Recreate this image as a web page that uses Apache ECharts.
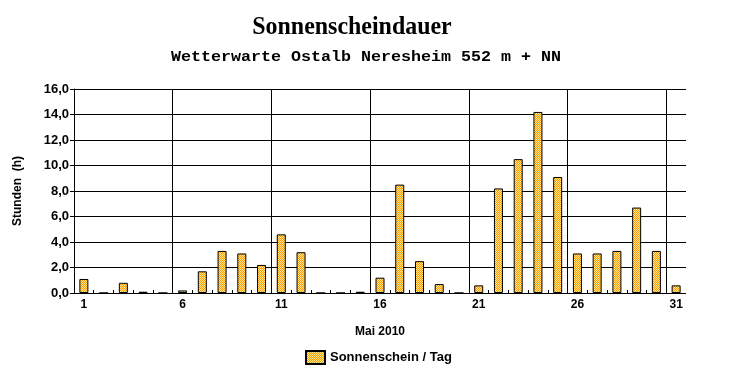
<!DOCTYPE html>
<html><head><meta charset="utf-8">
<script src="https://cdn.jsdelivr.net/npm/echarts@6/dist/echarts.min.js"></script>
<style>html,body{margin:0;padding:0;background:#fff}#c{width:732px;height:380px}</style>
</head><body><div id="c"></div>
<script>
const days = ['1','2','3','4','5','6','7','8','9','10','11','12','13','14','15','16','17','18','19','20','21','22','23','24','25','26','27','28','29','30','31'];
const sunshine = [1.1,0,0.8,0.1,0,0.2,1.7,3.3,3.1,2.2,4.6,3.2,0,0,0.1,1.2,8.5,2.5,0.7,0,0.6,8.2,10.5,14.2,9.1,3.1,3.1,3.3,6.7,3.3,0.6];
const yTicks = {min:0, max:16, step:2};
const titleText = 'Sonnenscheindauer';
const subtitleText = 'Wetterwarte Ostalb Neresheim 552 m + NN';
const xName = 'Mai 2010';
const yName = 'Stunden  (h)';
const seriesName = 'Sonnenschein / Tag';

const pc = document.createElement('canvas');
pc.width = 2; pc.height = 2;
const g = pc.getContext('2d');
g.fillStyle = '#FFE890'; g.fillRect(0,0,2,2);
g.fillStyle = '#FF9A00'; g.fillRect(0,0,1,1); g.fillRect(1,1,1,1);

const chart = echarts.init(document.getElementById('c'), null, {renderer:'canvas'});
const lbl = {fontFamily:'Liberation Sans', fontWeight:'bold', fontSize:12, color:'#000'};
chart.setOption({
  animation:false,
  backgroundColor:'#fff',
  graphic:[
    {type:'text', x:352, y:27, scaleX:0.92, z:100, style:{text:titleText, font:'bold 26px "Liberation Serif"', fill:'#000', textAlign:'center', textVerticalAlign:'middle'}},
    {type:'text', x:366, y:57, scaleX:1.19, z:100, style:{text:subtitleText, font:'bold 14px "Liberation Mono"', fill:'#000', textAlign:'center', textVerticalAlign:'middle'}},
    {type:'rect', shape:{x:686, y:88, width:2, height:206}, z:100, style:{fill:'#fff'}}
  ],
  grid:{left:74, right:46, top:89, bottom:87},
  legend:{top:345, left:300, itemWidth:19, itemHeight:13, itemGap:7, icon:'rect',
    textStyle:Object.assign({}, lbl, {fontSize:13}), data:[seriesName]},
  xAxis:{type:'category', data:days, boundaryGap:true,
    name:xName, nameLocation:'middle', nameGap:33, nameTextStyle:lbl,
    axisLine:{lineStyle:{color:'#000', width:1}},
    axisTick:{show:true, inside:true, length:3, interval:0, lineStyle:{color:'#000'}},
    axisLabel:Object.assign({}, lbl, {margin:6, interval:function(i){return i%5===0;}}),
    splitLine:{show:true, interval:function(i){return i%5===0 && i>0;}, lineStyle:{color:'#000', width:1}}
  },
  yAxis:{type:'value', min:yTicks.min, max:yTicks.max, interval:yTicks.step,
    name:yName, nameLocation:'middle', nameGap:50, nameRotate:90, nameTextStyle:lbl,
    axisLine:{show:true, lineStyle:{color:'#000'}},
    axisTick:{show:true, length:4, lineStyle:{color:'#000'}},
    axisLabel:Object.assign({}, lbl, {fontSize:13, margin:5, formatter:function(v){return v.toFixed(1).replace('.',',');}}),
    splitLine:{show:true, lineStyle:{color:'#000', width:1}}
  },
  series:[{type:'bar', name:seriesName, data:sunshine, barWidth:9,
    itemStyle:{color:{image:pc, repeat:'repeat'}, borderColor:'#000', borderWidth:1}}]
});
</script></body></html>
